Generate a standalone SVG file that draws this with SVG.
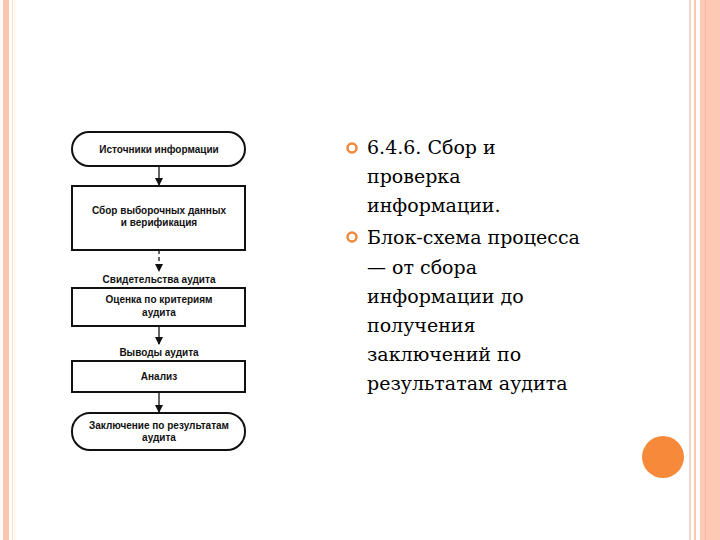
<svg xmlns="http://www.w3.org/2000/svg" width="720" height="540" viewBox="0 0 720 540">
<style>
.b{fill:#fff;stroke:#111;stroke-width:2}
.t{font-family:"Liberation Sans",Arial,sans-serif;font-weight:bold;font-size:10px;fill:#111;text-anchor:middle}
.c{stroke:#111;stroke-width:1.3;fill:none}
.m{font-family:"DejaVu Serif","Liberation Serif",serif;font-size:19px;fill:#000}
.bul{fill:none;stroke:#f08a3a;stroke-width:2.5}
</style>
<defs><marker id="a" markerWidth="8" markerHeight="8" refX="7" refY="4" orient="auto" markerUnits="userSpaceOnUse"><path d="M0,0 L8,4 L0,8 z" fill="#111"/></marker></defs>
<rect width="720" height="540" fill="#fff"/>
<rect x="3" y="0" width="6" height="540" fill="#fcc6b0"/>
<rect x="12" y="0" width="1" height="540" fill="#fde0d4"/>
<rect x="14" y="0" width="1" height="540" fill="#fff3e0"/>
<rect x="689" y="0" width="2" height="540" fill="#f4d6c8"/>
<rect x="694" y="0" width="2" height="540" fill="#fcc6b0"/>
<rect x="700" y="0" width="20" height="540" fill="#fdc9b4"/>
<rect x="705" y="0" width="1" height="540" fill="#f5b9a2"/>
<circle cx="663" cy="457" r="21" fill="#f68a3a"/>
<g id="connectors">
<line class="c" x1="159" y1="166" x2="159" y2="185" marker-end="url(#a)"/>
<line class="c" x1="159" y1="250" x2="159" y2="271" stroke-dasharray="4,3" marker-end="url(#a)"/>
<line class="c" x1="159" y1="326" x2="159" y2="344" marker-end="url(#a)"/>
<line class="c" x1="159" y1="392" x2="159" y2="412" marker-end="url(#a)"/>
</g>
<g id="n1"><rect class="b" x="72" y="132" width="173" height="34" rx="17"/><text class="t" x="159" y="153">Источники информации</text></g>
<g id="n2"><rect class="b" x="72" y="186" width="173" height="64"/><text class="t" x="159" y="214">Сбор выборочных данных</text><text class="t" x="159" y="226">и верификация</text></g>
<g id="l1"><text class="t" x="159" y="283">Свидетельства аудита</text></g>
<g id="n3"><rect class="b" x="72" y="288" width="173" height="38"/><text class="t" x="159" y="303">Оценка по критериям</text><text class="t" x="159" y="316">аудита</text></g>
<g id="l2"><text class="t" x="159" y="356">Выводы аудита</text></g>
<g id="n4"><rect class="b" x="72" y="361" width="173" height="31"/><text class="t" x="159" y="380">Анализ</text></g>
<g id="n5"><rect class="b" x="72" y="413" width="173" height="37" rx="18"/><text class="t" x="159" y="429">Заключение по результатам</text><text class="t" x="159" y="441">аудита</text></g>
<circle class="bul" cx="352" cy="148" r="4.5"/>
<circle class="bul" cx="352" cy="237" r="4.5"/>
<text class="m" x="367" y="154">6.4.6. Сбор и</text>
<text class="m" x="367" y="183">проверка</text>
<text class="m" x="367" y="212">информации.</text>
<text class="m" x="367" y="244">Блок-схема процесса</text>
<text class="m" x="367" y="274">— от сбора</text>
<text class="m" x="367" y="303">информации до</text>
<text class="m" x="367" y="332">получения</text>
<text class="m" x="367" y="361">заключений по</text>
<text class="m" x="367" y="390">результатам аудита</text>
</svg>
